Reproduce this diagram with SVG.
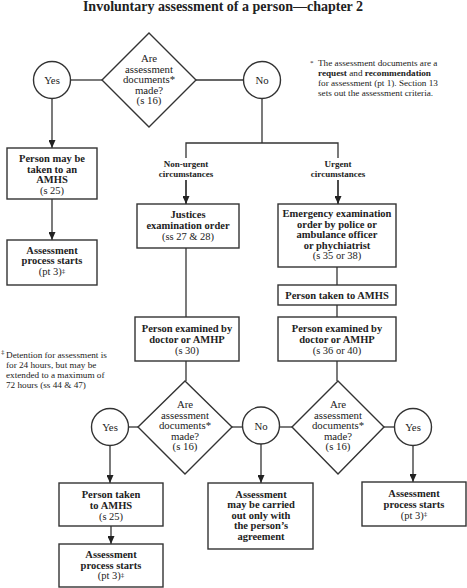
<svg xmlns="http://www.w3.org/2000/svg" width="467" height="588" viewBox="0 0 467 588">
<style>
.s{fill:none;stroke:#333;stroke-width:1.3}
.n{fill:#fff;stroke:#333;stroke-width:1.4}
text{font-family:"Liberation Serif","Times New Roman",serif;fill:#222;text-anchor:middle}
.b{font-weight:bold;font-size:10.5px}
.r{font-size:10.5px}
.d{font-size:10.8px}
.lab{font-weight:bold;font-size:9px}
.fn{font-size:9.2px;text-anchor:start}
.sup{font-size:7px}
</style>
<defs>
<marker id="ah" viewBox="0 0 8 7" refX="8" refY="3.5" markerWidth="8" markerHeight="7" markerUnits="userSpaceOnUse" orient="auto">
<path d="M0,0 L8,3.5 L0,7 z" fill="#222"/>
</marker>
</defs>
<rect width="467" height="588" fill="#fff"/>
<text x="223" y="10.5" style="font-weight:bold;font-size:14px">Involuntary assessment of a person—chapter 2</text>

<g id="connectors" class="s">
<line x1="70" y1="80" x2="102" y2="80"/>
<line x1="196" y1="80" x2="243" y2="80"/>
<line x1="52" y1="98" x2="52" y2="148" marker-end="url(#ah)"/>
<line x1="52" y1="199" x2="52" y2="240" marker-end="url(#ah)"/>
<line x1="262" y1="99" x2="262" y2="143"/>
<polyline points="186,204 186,143 338,143 338,204"/>
<line x1="186" y1="180" x2="186" y2="204" marker-end="url(#ah)"/>
<line x1="338" y1="180" x2="338" y2="204" marker-end="url(#ah)"/>
<line x1="186" y1="248" x2="186" y2="317"/>
<line x1="186" y1="361" x2="186" y2="381"/>
<line x1="337" y1="267" x2="337" y2="285"/>
<line x1="337" y1="305" x2="337" y2="317"/>
<line x1="337" y1="361" x2="337" y2="381"/>
<line x1="128" y1="427" x2="138" y2="427"/>
<line x1="232" y1="427" x2="243" y2="427"/>
<line x1="280" y1="427" x2="292" y2="427"/>
<line x1="384" y1="427" x2="395" y2="427"/>
<line x1="110" y1="445" x2="110" y2="483" marker-end="url(#ah)"/>
<line x1="111" y1="526" x2="111" y2="544" marker-end="url(#ah)"/>
<line x1="261" y1="444" x2="261" y2="483" marker-end="url(#ah)"/>
<line x1="413" y1="445" x2="413" y2="482" marker-end="url(#ah)"/>
</g>

<g id="label-nonurgent">
<rect x="158" y="158" width="56" height="22" fill="#fff"/>
<text class="lab" x="186" y="167">Non-urgent</text>
<text class="lab" x="186" y="177">circumstances</text>
</g>
<g id="label-urgent">
<rect x="310" y="158" width="56" height="22" fill="#fff"/>
<text class="lab" x="338" y="167">Urgent</text>
<text class="lab" x="338" y="177">circumstances</text>
</g>

<g id="q1">
<polygon class="n" points="149,33 196,80 149,127 102,80"/>
<text class="d" x="149" y="62">Are</text>
<text class="d" x="149" y="72.5">assessment</text>
<text class="d" x="149" y="83">documents*</text>
<text class="d" x="149" y="93.5">made?</text>
<text class="d" x="149" y="104">(s 16)</text>
</g>
<g id="yes1">
<circle class="n" cx="52" cy="80" r="18.5"/>
<text class="d" x="52" y="84">Yes</text>
</g>
<g id="no1">
<circle class="n" cx="262" cy="80" r="18.5"/>
<text class="d" x="262" y="84">No</text>
</g>

<g id="note-star">
<text class="fn" x="310" y="66"><tspan font-size="7" dy="-1">*</tspan><tspan x="318" dy="1">The assessment documents are a</tspan></text>
<text class="fn" x="318" y="76"><tspan font-weight="bold">request</tspan> and <tspan font-weight="bold">recommendation</tspan></text>
<text class="fn" x="318" y="86">for assessment (pt 1). Section 13</text>
<text class="fn" x="318" y="96">sets out the assessment criteria.</text>
</g>

<g id="box-may-take">
<rect class="n" x="7" y="148" width="90" height="51"/>
<text class="b" x="52" y="162">Person may be</text>
<text class="b" x="52" y="172.5">taken to an</text>
<text class="b" x="52" y="183">AMHS</text>
<text class="r" x="52" y="193.5">(s 25)</text>
</g>
<g id="box-start1">
<rect class="n" x="7" y="240" width="90" height="45"/>
<text class="b" x="52" y="253.5">Assessment</text>
<text class="b" x="52" y="264">process starts</text>
<text class="r" x="52" y="275">(pt 3)<tspan class="sup" dy="-2.5">‡</tspan></text>
</g>

<g id="box-justices">
<rect class="n" x="137" y="204" width="102" height="44"/>
<text class="b" x="188" y="217.5">Justices</text>
<text class="b" x="188" y="228.5">examination order</text>
<text class="r" x="188" y="239.5">(ss 27 &amp; 28)</text>
</g>
<g id="box-emergency">
<rect class="n" x="278" y="204" width="118" height="63"/>
<text class="b" x="337" y="217">Emergency examination</text>
<text class="b" x="337" y="227.5">order by police or</text>
<text class="b" x="337" y="238">ambulance officer</text>
<text class="b" x="337" y="248.5">or phychiatrist</text>
<text class="r" x="337" y="259">(s 35 or 38)</text>
</g>
<g id="box-taken-right">
<rect class="n" x="278" y="285" width="118" height="20"/>
<text class="b" x="337" y="298.5">Person taken to AMHS</text>
</g>
<g id="box-exam-left">
<rect class="n" x="135" y="317" width="104" height="44"/>
<text class="b" x="187" y="332">Person examined by</text>
<text class="b" x="187" y="342.5">doctor or AMHP</text>
<text class="r" x="187" y="353.5">(s 30)</text>
</g>
<g id="box-exam-right">
<rect class="n" x="278" y="317" width="118" height="44"/>
<text class="b" x="337" y="332">Person examined by</text>
<text class="b" x="337" y="342.5">doctor or AMHP</text>
<text class="r" x="337" y="353.5">(s 36 or 40)</text>
</g>

<g id="note-dagger">
<text class="fn" x="1" y="354"><tspan font-size="7">‡</tspan></text>
<text class="fn" x="6" y="357.5">Detention for assessment is</text>
<text class="fn" x="6" y="368">for 24 hours, but may be</text>
<text class="fn" x="6" y="378">extended to a maximum of</text>
<text class="fn" x="6" y="388">72 hours (ss 44 &amp; 47)</text>
</g>

<g id="q2">
<polygon class="n" points="185,381 232,427 185,474 138,427"/>
<text class="d" x="185" y="408">Are</text>
<text class="d" x="185" y="418.5">assessment</text>
<text class="d" x="185" y="429">documents*</text>
<text class="d" x="185" y="439.5">made?</text>
<text class="d" x="185" y="450">(s 16)</text>
</g>
<g id="q3">
<polygon class="n" points="338,381 384,427 338,474 292,427"/>
<text class="d" x="338" y="408">Are</text>
<text class="d" x="338" y="418.5">assessment</text>
<text class="d" x="338" y="429">documents*</text>
<text class="d" x="338" y="439.5">made?</text>
<text class="d" x="338" y="450">(s 16)</text>
</g>
<g id="yes2">
<circle class="n" cx="110" cy="427" r="18.5"/>
<text class="d" x="110" y="431">Yes</text>
</g>
<g id="no2">
<circle class="n" cx="261" cy="425.5" r="18.5"/>
<text class="d" x="261" y="429.5">No</text>
</g>
<g id="yes3">
<circle class="n" cx="413" cy="427" r="18.5"/>
<text class="d" x="413" y="431">Yes</text>
</g>

<g id="box-taken-left">
<rect class="n" x="59" y="483" width="104" height="43"/>
<text class="b" x="111" y="498">Person taken</text>
<text class="b" x="111" y="508.5">to AMHS</text>
<text class="r" x="111" y="519.5">(s 25)</text>
</g>
<g id="box-start2">
<rect class="n" x="59" y="544" width="104" height="43"/>
<text class="b" x="111" y="558">Assessment</text>
<text class="b" x="111" y="568.5">process starts</text>
<text class="r" x="111" y="579">(pt 3)<tspan class="sup" dy="-2.5">‡</tspan></text>
</g>
<g id="box-agreement">
<rect class="n" x="208" y="483" width="105" height="66"/>
<text class="b" x="261" y="497.5">Assessment</text>
<text class="b" x="261" y="508">may be carried</text>
<text class="b" x="261" y="518.5">out only with</text>
<text class="b" x="261" y="529">the person’s</text>
<text class="b" x="261" y="539.5">agreement</text>
</g>
<g id="box-start3">
<rect class="n" x="362" y="482" width="104" height="44"/>
<text class="b" x="414" y="497">Assessment</text>
<text class="b" x="414" y="507.5">process starts</text>
<text class="r" x="414" y="518.5">(pt 3)<tspan class="sup" dy="-2.5">‡</tspan></text>
</g>
</svg>
